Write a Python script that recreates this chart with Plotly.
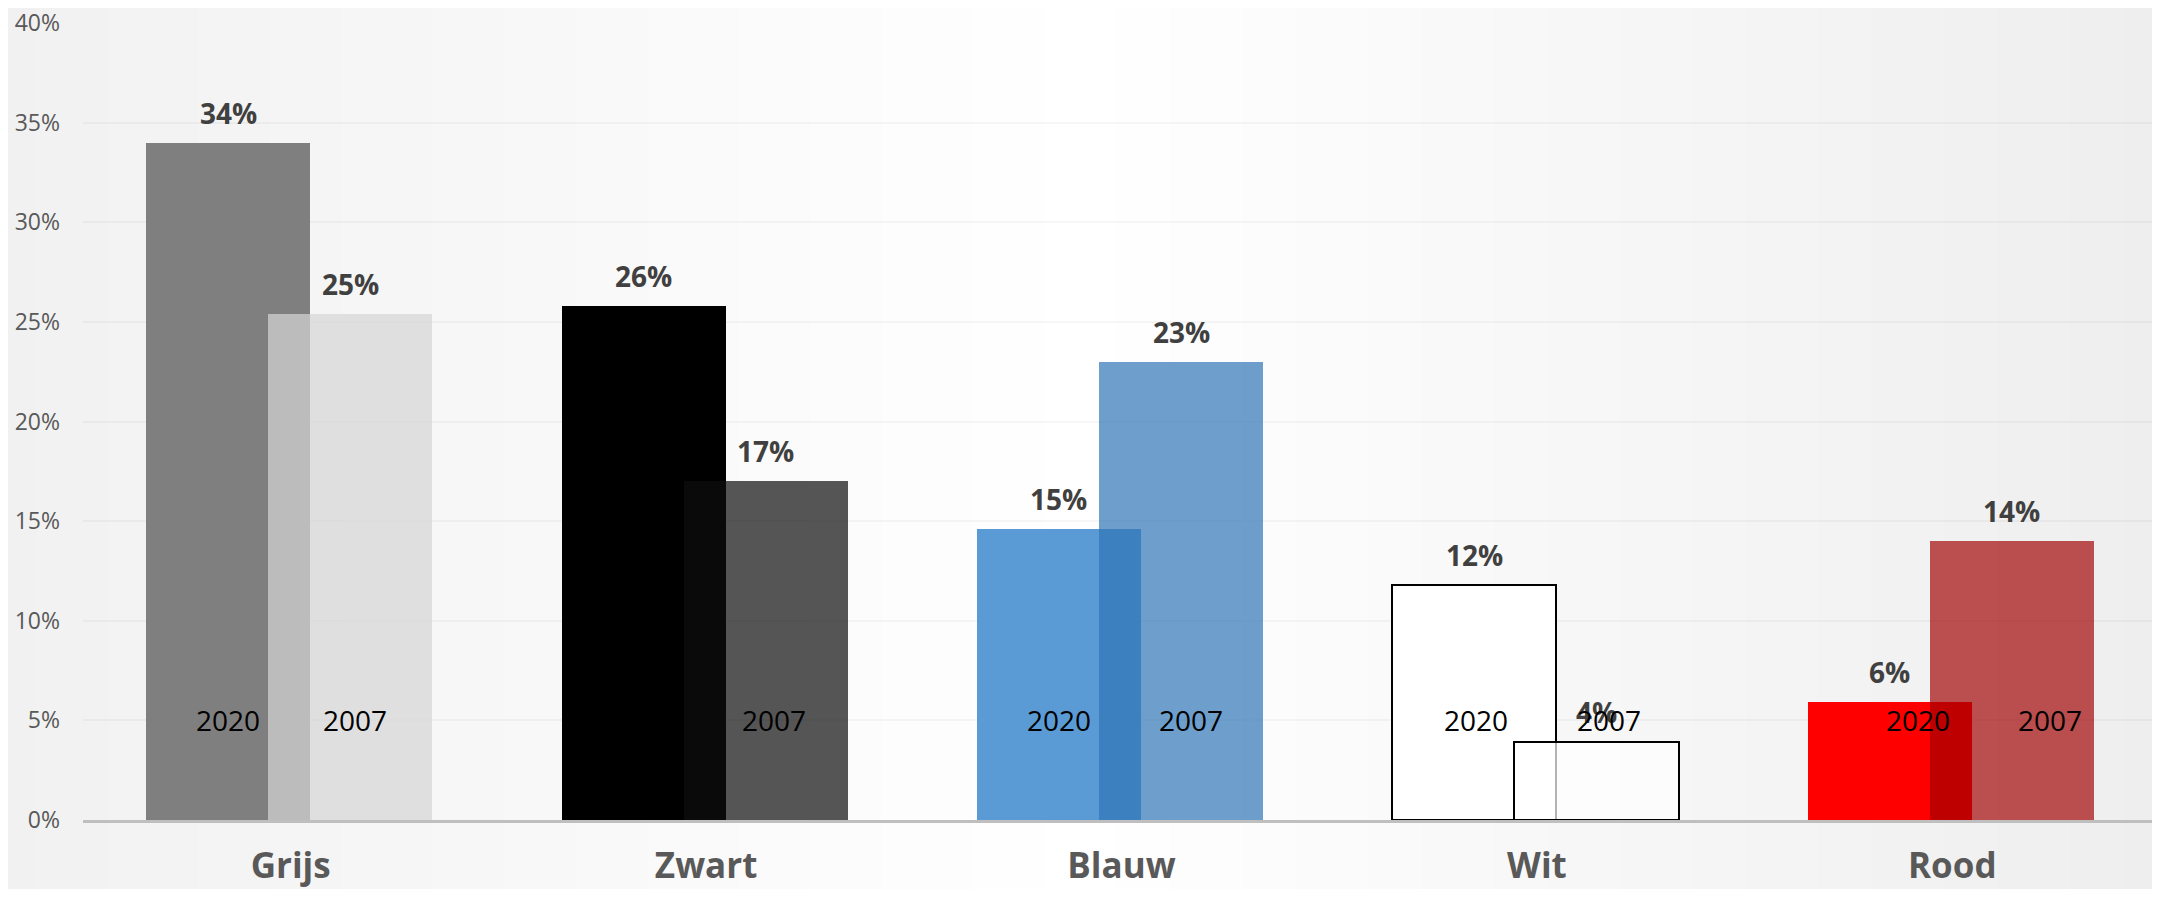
import plotly.graph_objects as go

# ---------------- data ----------------
categories = ["Grijs", "Zwart", "Blauw", "Wit", "Rood"]
share_2020 = [34.0, 25.8, 14.6, 11.8, 5.9]
share_2007 = [25.4, 17.0, 23.0, 3.9, 14.0]
series_names = ["2020", "2007"]
y_ticks = [0, 5, 10, 15, 20, 25, 30, 35, 40]

# ---------------- style ----------------
PAGE_W, PAGE_H = 2160, 897
BODY = 8                      # default browser body margin
W, H = PAGE_W - 2 * BODY, PAGE_H - 2 * BODY
FONT = "Open Sans"
colors_2020 = ["#7F7F7F", "#000000", "#5B9BD5", "#FFFFFF", "#FF0000"]
colors_2007 = ["rgba(214,214,214,0.7)", "rgba(14,14,14,0.7)", "rgba(47,117,183,0.7)",
               "rgba(255,255,255,0.7)", "rgba(161,0,0,0.68)"]
line_w = [0, 0, 0, 2, 0]
BAR_W = 0.395
OFF_2020 = -0.348
OFF_2007 = -0.054
year_shift_2020 = [0, 0, 0, 2, 28]
year_shift_2007 = [5, 8, 10, 12, 38]

xs = list(range(len(categories)))

fig = go.Figure()
fig.add_trace(go.Bar(
    x=xs, y=share_2020, name=series_names[0], width=BAR_W, offset=OFF_2020,
    marker=dict(color=colors_2020, line=dict(color="#000000", width=line_w)),
    hoverinfo="skip", showlegend=False))
fig.add_trace(go.Bar(
    x=xs, y=share_2007, name=series_names[1], width=BAR_W, offset=OFF_2007,
    marker=dict(color=colors_2007, line=dict(color="#000000", width=line_w)),
    hoverinfo="skip", showlegend=False))

c2020 = OFF_2020 + BAR_W / 2
c2007 = OFF_2007 + BAR_W / 2
annotations = []
for i, (a, b) in enumerate(zip(share_2020, share_2007)):
    for val, c in ((a, c2020), (b, c2007)):
        annotations.append(dict(
            x=i + c, y=val, xref="x", yref="y", text=f"{val:.0f}%", showarrow=False,
            yanchor="middle", yshift=30,
            font=dict(family=FONT, size=28, color="#404040", weight="bold")))
    for name, c, sh in ((series_names[0], c2020, year_shift_2020[i]),
                        (series_names[1], c2007, year_shift_2007[i])):
        annotations.append(dict(
            x=i + c, y=5, xref="x", yref="y", text=name, showarrow=False,
            yanchor="middle", xshift=sh,
            font=dict(family=FONT, size=28, color="#000000")))

# layout in figure pixels (page pixels minus body margin)
ML, MR, MT, MB = 75, 0, 15, 69
pw = W - ML - MR
PX_PER_CAT = (PAGE_W - 83) / len(categories)
x_max = -0.5 + pw / PX_PER_CAT

# background horizontal gradient (stripes in paper coordinates)
stops = [(0.0, 241), (0.5, 255), (1.0, 238)]
def grey_at(f):
    for (f0, g0), (f1, g1) in zip(stops[:-1], stops[1:]):
        if f <= f1:
            return g0 + (g1 - g0) * (f - f0) / (f1 - f0)
    return stops[-1][1]
shapes = []
N = 120
for k in range(N):
    px0 = -BODY + PAGE_W * k / N
    px1 = -BODY + PAGE_W * (k + 1) / N + 1
    g = int(round(grey_at((k + 0.5) / N)))
    shapes.append(dict(type="rect", xref="paper", yref="paper",
                       x0=(px0 - ML) / pw, x1=(px1 - ML) / pw, y0=-0.2, y1=1.2,
                       fillcolor=f"rgb({g},{g},{g})", line=dict(width=0), layer="below"))

fig.update_layout(
    width=W, height=H, autosize=False,
    margin=dict(l=ML, r=MR, t=MT, b=MB, pad=0, autoexpand=False),
    paper_bgcolor="#F3F3F3", plot_bgcolor="rgba(0,0,0,0)",
    barmode="overlay", bargap=0,
    annotations=annotations, shapes=shapes,
    font=dict(family=FONT),
)
fig.update_xaxes(
    range=[-0.5, x_max], tickvals=xs, ticktext=categories, automargin=False,
    showgrid=False, zeroline=False, showline=True, linecolor="#BFBFBF", linewidth=3,
    ticks="", ticklabelstandoff=13, ticklabeloverflow="allow",
    tickfont=dict(family=FONT, size=35, color="#595959", weight="bold"))
fig.update_yaxes(
    range=[0, 40], tickvals=y_ticks, ticktext=[f"{t}%" for t in y_ticks], automargin=False,
    showgrid=True, gridcolor="rgba(0,0,0,0.035)", gridwidth=2, zeroline=False,
    showline=False, ticks="", ticklabelstandoff=22, ticklabeloverflow="allow",
    tickfont=dict(family=FONT, size=23, color="#595959"))

fig.write_html("out.html")
